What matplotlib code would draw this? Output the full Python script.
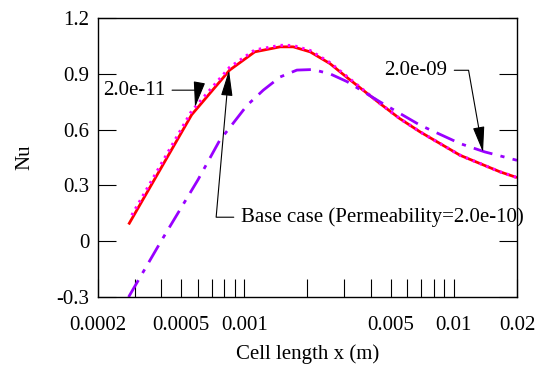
import numpy as np
import matplotlib.pyplot as plt
from matplotlib.ticker import FixedLocator, NullFormatter

plt.rcParams["font.family"] = ["Liberation Serif", "DejaVu Serif"]
plt.rcParams["font.size"] = 15

# Base case (permeability 2.0e-10) - red solid
x_base = [0.00028, 0.00056, 0.00085, 0.00112, 0.00148, 0.00171, 0.00206,
          0.00256, 0.00309, 0.00444, 0.0055, 0.00689, 0.0107, 0.0166, 0.02]
nu_base = [0.09, 0.68, 0.92, 1.018, 1.045, 1.045, 1.018,
           0.955, 0.88, 0.74, 0.66, 0.588, 0.462, 0.373, 0.342]

# Permeability 2.0e-11 - magenta dotted
x_low = [0.00029, 0.00056, 0.00085, 0.00112, 0.00148, 0.00171, 0.00206,
         0.00256, 0.00309, 0.00444, 0.0055, 0.00689, 0.0107, 0.0166, 0.02]
nu_low = [0.14, 0.70, 0.935, 1.028, 1.053, 1.052, 1.025,
          0.96, 0.885, 0.74, 0.66, 0.588, 0.462, 0.373, 0.342]

# Permeability 2.0e-09 - violet dash-dot
x_high = [0.00028, 0.0004, 0.0006, 0.00076, 0.00085, 0.00103, 0.00123, 0.00148,
          0.00178, 0.00212, 0.00256, 0.00309, 0.00444, 0.00689, 0.0107,
          0.01405, 0.02]
nu_high = [-0.3, 0.0, 0.33, 0.54, 0.61, 0.731, 0.812, 0.883,
           0.92, 0.923, 0.90, 0.858, 0.749, 0.624, 0.525,
           0.48, 0.435]

x_labels = [0.0002, 0.0005, 0.001, 0.005, 0.01, 0.02]
x_minor = [0.0003, 0.0004, 0.0006, 0.0007, 0.0008, 0.0009,
           0.002, 0.003, 0.004, 0.006, 0.007, 0.008, 0.009]
y_ticks = [-0.3, 0, 0.3, 0.6, 0.9, 1.2]

fig = plt.figure(figsize=(5.49, 3.69), dpi=100)
ax = fig.add_axes([0.1785, 0.1951, 0.7632, 0.7561])

ax.plot(x_base, nu_base, color="#ff0000", lw=2.0, solid_capstyle="butt")
ax.plot(x_low, nu_low, color="#ff00ff", lw=2.2, linestyle=(0, (0.8, 1.6)))
ax.plot(x_high, nu_high, color="#9900ff", lw=2.0, dashes=(7, 3, 1.5, 3))

ax.set_xscale("log")
ax.set_xlim(0.0002, 0.02)
ax.set_ylim(-0.3, 1.2)

ax.xaxis.set_major_locator(FixedLocator(x_labels))
ax.xaxis.set_minor_locator(FixedLocator(x_minor))
ax.xaxis.set_minor_formatter(NullFormatter())
ax.set_xticklabels(["0.0002", "0.0005", "0.001", "0.005", "0.01", "0.02"])
ax.set_yticks(y_ticks)
ax.set_yticklabels(["-0.3", "0", "0.3", "0.6", "0.9", "1.2"])

ax.tick_params(axis="x", which="both", direction="in", length=13, width=0.8,
               top=False, pad=14)
ax.tick_params(axis="y", direction="in", length=13, width=0.8, right=True, pad=6)
for s in ax.spines.values():
    s.set_linewidth(1.0)

ax.set_xlabel("Cell length x (m)", labelpad=6)
ax.set_ylabel("Nu", labelpad=16)

arrow = dict(arrowstyle="-|>,head_length=1.6,head_width=0.36", color="black",
             lw=0.8, mutation_scale=10, shrinkA=3, shrinkB=0)

ax.annotate("2.0e-11", xy=(0.000581, 0.72), xytext=(0.000211, 0.812),
            ha="left", va="center",
            arrowprops=dict(arrow, connectionstyle="angle,angleA=0,angleB=80,rad=0"))
ax.annotate("2.0e-09", xy=(0.01377, 0.478), xytext=(0.0093, 0.919),
            ha="right", va="center",
            arrowprops=dict(arrow, connectionstyle="angle,angleA=0,angleB=100,rad=0"))
ax.annotate("Base case (Permeability=2.0e-10)", xy=(0.000844, 0.919),
            xytext=(0.00096, 0.129), ha="left", va="center", annotation_clip=False,
            arrowprops=dict(arrow, connectionstyle="angle,angleA=0,angleB=85,rad=0"))

fig.savefig("out.png", dpi=100)
